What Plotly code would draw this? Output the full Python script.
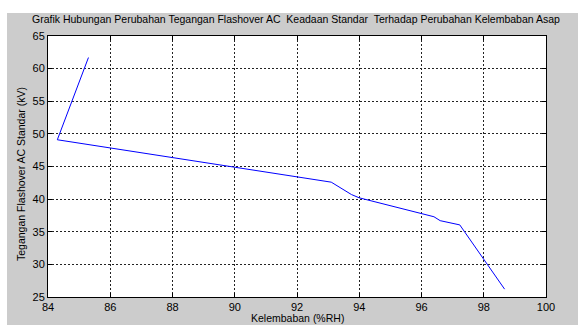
import plotly.graph_objects as go

# Data
kelembaban = [85.3, 84.3, 93.1, 93.75, 94.0, 96.4, 96.6, 97.23, 98.67]
tegangan = [61.7, 49.1, 42.6, 40.7, 40.2, 37.3, 36.7, 36.05, 26.2]

x_ticks = [84, 86, 88, 90, 92, 94, 96, 98, 100]
y_ticks = [25, 30, 35, 40, 45, 50, 55, 60, 65]

title_text = "Grafik Hubungan Perubahan Tegangan Flashover AC  Keadaan Standar  Terhadap Perubahan Kelembaban Asap"
x_title = "Kelembaban (%RH)"
y_title = "Tegangan Flashover AC Standar (kV)"

W, H = 578, 325
L, R, T, B = 48, 32, 36, 28
pw, ph = W - L - R, H - T - B

def px_to_paper_x(px):
    return (px - L) / pw

def py_to_paper_y(py):
    return (H - B - py) / ph

tick_font = dict(family="Liberation Sans, Arial, sans-serif", size=11, color="#000000")
text_font = dict(family="Liberation Sans, Arial, sans-serif", size=10.5, color="#000000")

fig = go.Figure()
fig.add_trace(go.Scatter(x=kelembaban, y=tegangan, mode="lines",
                         line=dict(color="#0000ff", width=1), showlegend=False))

fig.update_layout(
    width=W, height=H,
    margin=dict(l=L, r=R, t=T, b=B, pad=0),
    paper_bgcolor="#cccccc",
    plot_bgcolor="#ffffff",
    font=tick_font,
    showlegend=False,
    shapes=[
        dict(type="rect", xref="paper", yref="paper", layer="below",
             x0=px_to_paper_x(-5), x1=px_to_paper_x(W + 5),
             y0=py_to_paper_y(13), y1=py_to_paper_y(-5),
             fillcolor="#ffffff", line=dict(width=0)),
        dict(type="rect", xref="paper", yref="paper", layer="below",
             x0=px_to_paper_x(-5), x1=px_to_paper_x(7),
             y0=py_to_paper_y(H + 5), y1=py_to_paper_y(-5),
             fillcolor="#ffffff", line=dict(width=0)),
    ],
    annotations=[
        dict(text=title_text, xref="paper", yref="paper",
             x=px_to_paper_x(296), y=py_to_paper_y(19), xanchor="center", yanchor="middle",
             showarrow=False, font=text_font),
        dict(text=x_title, xref="paper", yref="paper",
             x=px_to_paper_x(297), y=py_to_paper_y(318), xanchor="center", yanchor="middle",
             showarrow=False, font=text_font),
        dict(text=y_title, xref="paper", yref="paper", textangle=-90,
             x=px_to_paper_x(21), y=py_to_paper_y(174), xanchor="center", yanchor="middle",
             showarrow=False, font=text_font),
    ],
)

fig.update_xaxes(range=[84, 100], tickvals=x_ticks, ticktext=[str(v) for v in x_ticks],
                 showgrid=True, gridcolor="#222222", griddash="2px,2px", gridwidth=1,
                 showline=True, linecolor="#000000", linewidth=1, mirror="ticks",
                 ticks="inside", ticklen=4, tickcolor="#000000",
                 zeroline=False, tickfont=tick_font)
fig.update_yaxes(range=[25, 65], tickvals=y_ticks, ticktext=[str(v) for v in y_ticks],
                 showgrid=True, gridcolor="#222222", griddash="2px,2px", gridwidth=1,
                 showline=True, linecolor="#000000", linewidth=1, mirror="ticks",
                 ticks="inside", ticklen=4, tickcolor="#000000",
                 zeroline=False, tickfont=tick_font)

fig.write_html("out.html", config={"displayModeBar": False},
               post_script="document.body.style.margin='0';document.body.style.overflow='hidden';")
